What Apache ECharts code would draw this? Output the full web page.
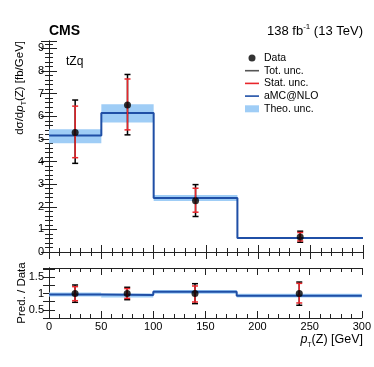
<!DOCTYPE html>
<html>
<head>
<meta charset="utf-8">
<script src="https://cdn.jsdelivr.net/npm/echarts@6/dist/echarts.min.js"></script>
<style>html,body{margin:0;padding:0;background:#fff}#main{width:374px;height:367px}</style>
</head>
<body>
<div id="main"></div>
<script>
// pT(Z) bins [GeV]
const binEdges = [0, 50, 100, 180, 300];
const binCenters = [25, 75, 140, 240];
// measured dsigma/dpT [fb/GeV]
const dataVal = [5.28, 6.50, 2.27, 0.66];
const totUp = [6.72, 7.85, 2.98, 0.92];
const totDown = [3.92, 5.18, 1.57, 0.43];
const statUp = [6.45, 7.65, 2.82, 0.86];
const statDown = [4.17, 5.40, 1.76, 0.49];
// aMC@NLO prediction + theory band
const pred = [5.15, 6.15, 2.39, 0.62];
const theoUp = [5.43, 6.53, 2.52, 0.66];
const theoDown = [4.81, 5.73, 2.26, 0.58];
// ratio panel (Pred. / Data)
const ratioData = [1, 1, 1, 1];
const ratioPred = [0.97, 0.95, 1.05, 0.93];
const ratioTheoUp = [1.03, 1.00, 1.11, 0.99];
const ratioTheoDown = [0.91, 0.88, 0.99, 0.88];
const ratioTotUp = [1.26, 1.19, 1.30, 1.35];
const ratioTotDown = [0.73, 0.81, 0.69, 0.64];
const ratioStatUp = [1.21, 1.15, 1.23, 1.31];
const ratioStatDown = [0.78, 0.85, 0.74, 0.71];
const ratioLabels = [0.5, 1, 1.5];

const FONT = 'Liberation Sans, Arial, sans-serif';
const bandColor = '#9fcdf6';
const lineColor = '#1f4fa6';
const redColor = '#e8262b';

function errBar(color) {
  return function (params, api) {
    const x = api.value(0);
    const lo = api.coord([x, api.value(1)]);
    const hi = api.coord([x, api.value(2)]);
    const st = { stroke: color, lineWidth: 1.5 };
    return {
      type: 'group', children: [
        { type: 'line', shape: { x1: lo[0], y1: lo[1], x2: hi[0], y2: hi[1] }, style: st },
        { type: 'line', shape: { x1: lo[0] - 3, y1: lo[1], x2: lo[0] + 3, y2: lo[1] }, style: st },
        { type: 'line', shape: { x1: hi[0] - 3, y1: hi[1], x2: hi[0] + 3, y2: hi[1] }, style: st }
      ]
    };
  };
}
function bandItem(params, api) {
  const p0 = api.coord([api.value(0), api.value(3)]);
  const p1 = api.coord([api.value(1), api.value(2)]);
  return {
    type: 'rect',
    shape: { x: p0[0], y: p0[1], width: p1[0] - p0[0], height: p1[1] - p0[1] },
    style: { fill: bandColor }
  };
}

const bandData = (lo, hi) => lo.map((v, i) => [binEdges[i], binEdges[i + 1], v, hi[i]]);
const errData = (lo, hi) => lo.map((v, i) => [binCenters[i], v, hi[i]]);
const stepData = vals => binEdges.map((e, i) => [e, vals[Math.min(i, vals.length - 1)]]);
const pointData = vals => vals.map((v, i) => [binCenters[i], v]);

const axLine = { show: true, lineStyle: { color: '#222', width: 1 } };

function xAxis(grid, pos, showLabels) {
  return {
    type: 'value', gridIndex: grid, position: pos, min: 0, max: 300, interval: 50,
    axisLine: axLine,
    axisTick: { show: true, inside: true, length: 7, lineStyle: { color: '#222' } },
    minorTick: { show: true, splitNumber: 5, length: 4, lineStyle: { color: '#222' } },
    splitLine: { show: false },
    axisLabel: { show: showLabels, margin: 3, color: '#000', fontFamily: FONT, fontSize: 11 }
  };
}
function yMain(pos, showLabels) {
  return {
    type: 'value', gridIndex: 0, position: pos, min: 0, max: 9.33, interval: 1,
    axisLine: axLine,
    axisTick: { show: true, inside: true, length: 8, lineStyle: { color: '#222' } },
    minorTick: { show: true, splitNumber: 5, length: 4, lineStyle: { color: '#222' } },
    splitLine: { show: false },
    axisLabel: {
      show: showLabels, margin: 5, color: '#000', fontFamily: FONT, fontSize: 11,
      showMaxLabel: false,
      formatter: v => (Math.abs(v - Math.round(v)) < 1e-6 ? String(Math.round(v)) : '')
    }
  };
}
function yRatio(pos, showLabels) {
  return {
    type: 'value', gridIndex: 1, position: pos, min: 0.25, max: 1.78, interval: 0.25,
    axisLine: axLine,
    axisTick: { show: true, inside: true, length: 6, lineStyle: { color: '#222' } },
    splitLine: { show: false },
    axisLabel: {
      show: showLabels, margin: 5, color: '#000', fontFamily: FONT, fontSize: 11,
      showMaxLabel: false, showMinLabel: false,
      formatter: v => (ratioLabels.some(r => Math.abs(r - v) < 1e-6) ? String(v) : '')
    }
  };
}

const linePath = 'path://M0,0H14V1.6H0Z';

const option = {
  animation: false,
  backgroundColor: '#fff',
  grid: [
    { left: 49, top: 41, width: 314, height: 211 },
    { left: 49, top: 268, width: 314, height: 50 }
  ],
  xAxis: [xAxis(0, 'bottom', false), xAxis(0, 'top', false), xAxis(1, 'bottom', true), xAxis(1, 'top', false)],
  yAxis: [yMain('left', true), yMain('right', false), yRatio('left', true), yRatio('right', false)],
  legend: {
    orient: 'vertical', left: 245, top: 52, itemWidth: 14, itemHeight: 7, itemGap: 0.7,
    padding: [0, 5, 0, 0],
    selectedMode: false,
    textStyle: { fontFamily: FONT, fontSize: 10.5, color: '#000', lineHeight: 12 },
    data: [
      { name: 'Data', icon: 'circle', itemStyle: { color: '#000' } },
      { name: 'Tot. unc.', icon: linePath, itemStyle: { color: '#555' } },
      { name: 'Stat. unc.', icon: linePath, itemStyle: { color: redColor } },
      { name: 'aMC@NLO', icon: linePath, itemStyle: { color: lineColor } },
      { name: 'Theo. unc.', icon: 'rect', itemStyle: { color: bandColor } }
    ]
  },
  graphic: [
    { type: 'text', x: 49, y: 31, style: { text: 'CMS', font: 'bold 14px ' + FONT, fill: '#000', verticalAlign: 'middle' } },
    {
      type: 'text', x: 363, y: 31,
      style: {
        text: '{a|138 fb}{s|-1}{a| (13 TeV)}', align: 'right', verticalAlign: 'middle',
        rich: {
          a: { fontFamily: FONT, fontSize: 13, color: '#000', lineHeight: 16 },
          s: { fontFamily: FONT, fontSize: 8, color: '#000', lineHeight: 9, verticalAlign: 'top' }
        }
      }
    },
    { type: 'text', x: 66, y: 62, style: { text: 'tZq', font: '12px ' + FONT, fill: '#000', verticalAlign: 'middle' } },
    {
      type: 'text', x: 20, y: 41, rotation: Math.PI / 2,
      style: {
        text: '{a|dσ/d}{i|p}{s|T}{a|(Z) [fb/GeV]}', align: 'right', verticalAlign: 'middle',
        rich: {
          a: { fontFamily: FONT, fontSize: 11.5, color: '#000', lineHeight: 16 },
          i: { fontFamily: FONT, fontSize: 11.5, fontStyle: 'italic', color: '#000', lineHeight: 16 },
          s: { fontFamily: FONT, fontSize: 7, color: '#000', lineHeight: 8, verticalAlign: 'bottom' }
        }
      }
    },
    {
      type: 'text', x: 22, y: 293, rotation: Math.PI / 2,
      style: { text: 'Pred. / Data', font: '11.5px ' + FONT, fill: '#000', align: 'center', verticalAlign: 'middle' }
    },
    {
      type: 'text', x: 363, y: 340,
      style: {
        text: '{i|p}{s|T}{a|(Z) [GeV]}', align: 'right', verticalAlign: 'middle',
        rich: {
          a: { fontFamily: FONT, fontSize: 12.5, color: '#000', lineHeight: 17 },
          i: { fontFamily: FONT, fontSize: 12.5, fontStyle: 'italic', color: '#000', lineHeight: 17 },
          s: { fontFamily: FONT, fontSize: 7, color: '#000', lineHeight: 8, verticalAlign: 'bottom' }
        }
      }
    }
  ],
  series: [
    // upper panel
    { name: 'Theo. unc.', type: 'custom', xAxisIndex: 0, yAxisIndex: 0, renderItem: bandItem,
      itemStyle: { color: bandColor }, data: bandData(theoDown, theoUp), z: 1, clip: true },
    { name: 'aMC@NLO', type: 'line', xAxisIndex: 0, yAxisIndex: 0, step: 'end', showSymbol: false,
      color: lineColor, lineStyle: { color: lineColor, width: 2 }, data: stepData(pred), z: 2 },
    { name: 'Tot. unc.', type: 'custom', xAxisIndex: 0, yAxisIndex: 0, renderItem: errBar('#000'),
      itemStyle: { color: '#555' }, data: errData(totDown, totUp), z: 3 },
    { name: 'Stat. unc.', type: 'custom', xAxisIndex: 0, yAxisIndex: 0, renderItem: errBar(redColor),
      itemStyle: { color: redColor }, data: errData(statDown, statUp), z: 4 },
    { name: 'Data', type: 'scatter', xAxisIndex: 0, yAxisIndex: 0, symbolSize: 7,
      itemStyle: { color: '#000' }, data: pointData(dataVal), z: 5 },
    // ratio panel
    { name: 'Theo. unc.', type: 'custom', xAxisIndex: 2, yAxisIndex: 2, renderItem: bandItem,
      itemStyle: { color: bandColor }, data: bandData(ratioTheoDown, ratioTheoUp), z: 1, clip: true },
    { name: 'aMC@NLO', type: 'line', xAxisIndex: 2, yAxisIndex: 2, step: 'end', showSymbol: false,
      color: lineColor, lineStyle: { color: lineColor, width: 2 }, data: stepData(ratioPred), z: 2 },
    { name: 'Tot. unc.', type: 'custom', xAxisIndex: 2, yAxisIndex: 2, renderItem: errBar('#000'),
      itemStyle: { color: '#555' }, data: errData(ratioTotDown, ratioTotUp), z: 3 },
    { name: 'Stat. unc.', type: 'custom', xAxisIndex: 2, yAxisIndex: 2, renderItem: errBar(redColor),
      itemStyle: { color: redColor }, data: errData(ratioStatDown, ratioStatUp), z: 4 },
    { name: 'Data', type: 'scatter', xAxisIndex: 2, yAxisIndex: 2, symbolSize: 7,
      itemStyle: { color: '#000' }, data: pointData(ratioData), z: 5 }
  ]
};

echarts.init(document.getElementById('main')).setOption(option);
</script>
</body>
</html>
